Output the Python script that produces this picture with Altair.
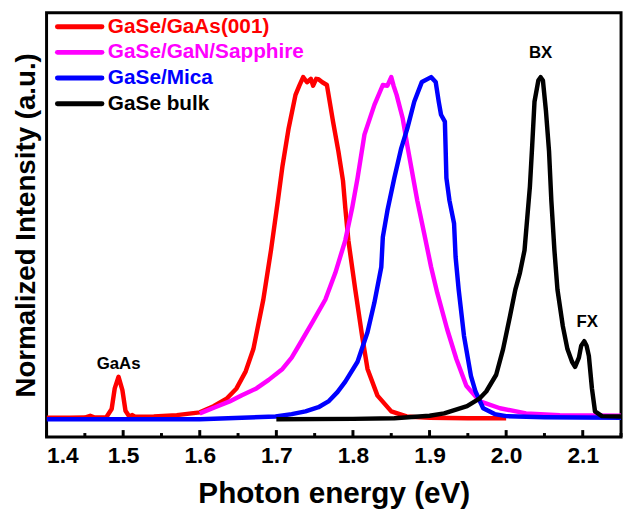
import altair as alt
import pandas as pd

# ---- data ----
series_names = ["GaSe/GaAs(001)", "GaSe/GaN/Sapphire", "GaSe/Mica", "GaSe bulk"]
series_colors = ["#ff0000", "#ff00ff", "#0000ff", "#000000"]

gaas_x = [1.400, 1.430, 1.450, 1.457, 1.463, 1.478, 1.485, 1.489, 1.494, 1.499, 1.503,
          1.508, 1.512, 1.516, 1.540, 1.570, 1.600, 1.618, 1.635, 1.648, 1.660, 1.670,
          1.683, 1.693, 1.702, 1.708, 1.716, 1.725, 1.730, 1.735, 1.740, 1.745, 1.748,
          1.752, 1.755, 1.760, 1.766, 1.774, 1.781, 1.787, 1.790, 1.794, 1.803, 1.812,
          1.819, 1.832, 1.850, 1.870, 1.900, 1.950, 2.000]
gaas_y = [0.004, 0.004, 0.005, 0.010, 0.005, 0.006, 0.030, 0.090, 0.124, 0.085, 0.025,
          0.008, 0.012, 0.007, 0.008, 0.012, 0.020, 0.038, 0.060, 0.090, 0.140, 0.205,
          0.350, 0.494, 0.639, 0.740, 0.850, 0.948, 0.975, 1.000, 0.985, 0.995, 0.975,
          0.995, 0.994, 0.985, 0.977, 0.870, 0.783, 0.697, 0.618, 0.523, 0.379, 0.243,
          0.147, 0.069, 0.023, 0.008, 0.004, 0.003, 0.003]

gan_x = [1.600, 1.620, 1.639, 1.655, 1.674, 1.690, 1.708, 1.720, 1.729, 1.747, 1.764,
         1.777, 1.790, 1.799, 1.806, 1.815, 1.828, 1.839, 1.845, 1.850, 1.853, 1.857,
         1.865, 1.871, 1.884, 1.893, 1.902, 1.910, 1.923, 1.935, 1.948, 1.966, 1.992,
         2.026, 2.070, 2.150]
gan_y = [0.017, 0.035, 0.052, 0.070, 0.090, 0.115, 0.147, 0.180, 0.214, 0.283, 0.350,
         0.428, 0.523, 0.618, 0.705, 0.832, 0.919, 0.977, 0.975, 1.000, 0.975, 0.948,
         0.879, 0.800, 0.639, 0.543, 0.445, 0.370, 0.263, 0.176, 0.098, 0.052, 0.032,
         0.017, 0.012, 0.010]

mica_x = [1.400, 1.600, 1.699, 1.720, 1.738, 1.755, 1.768, 1.780, 1.790, 1.806, 1.819,
          1.828, 1.837, 1.839, 1.845, 1.854, 1.863, 1.871, 1.880, 1.890, 1.902, 1.908,
          1.912, 1.915, 1.920, 1.921, 1.922, 1.926, 1.932, 1.934, 1.938, 1.945, 1.954,
          1.960, 1.970, 1.985, 2.000, 2.050, 2.150]
mica_y = [0.000, 0.000, 0.008, 0.015, 0.023, 0.035, 0.052, 0.080, 0.110, 0.168, 0.254,
          0.341, 0.445, 0.532, 0.610, 0.705, 0.792, 0.850, 0.928, 0.986, 1.000, 0.986,
          0.928, 0.890, 0.870, 0.790, 0.705, 0.639, 0.572, 0.474, 0.379, 0.243, 0.127,
          0.081, 0.032, 0.015, 0.009, 0.006, 0.004]

bulk_x = [1.700, 1.800, 1.854, 1.900, 1.919, 1.949, 1.965, 1.974, 1.987, 1.996, 2.005,
          2.012, 2.018, 2.024, 2.031, 2.034, 2.037, 2.042, 2.045, 2.048, 2.052, 2.056,
          2.059, 2.063, 2.067, 2.074, 2.080, 2.086, 2.090, 2.095, 2.098, 2.102, 2.105,
          2.108, 2.112, 2.116, 2.125, 2.150]
bulk_y = [0.000, 0.001, 0.003, 0.010, 0.017, 0.038, 0.060, 0.081, 0.130, 0.205, 0.301,
          0.379, 0.428, 0.494, 0.680, 0.800, 0.928, 0.990, 1.000, 0.990, 0.900, 0.783,
          0.639, 0.494, 0.379, 0.272, 0.205, 0.168, 0.153, 0.180, 0.215, 0.228, 0.215,
          0.185, 0.090, 0.023, 0.009, 0.008]

annot_text = ["GaAs", "BX", "FX"]
annot_x = [1.494, 2.045, 2.106]
annot_y = [0.160, 1.070, 0.285]

major_ticks = [1.4, 1.5, 1.6, 1.7, 1.8, 1.9, 2.0, 2.1]
minor_ticks = [1.45, 1.55, 1.65, 1.75, 1.85, 1.95, 2.05, 2.15]

# ---- chart ----
FONT = "Liberation Sans"
W, H = 581, 429
XDOM = [1.4, 2.15]
YDOM = [-0.052, 1.188]
XTITLE = "Photon energy (eV)"
YTITLE = "Normalized Intensity (a.u.)"

xs = alt.Scale(domain=XDOM, nice=False, zero=False)
ys = alt.Scale(domain=YDOM, nice=False, zero=False)

x_axis = alt.Axis(values=major_ticks, format=".1f", ticks=False, tickSize=0, domain=False,
                  grid=False, labelFontSize=23, labelFontWeight="bold", labelFont=FONT,
                  labelColor="black", labelPadding=8, titleFontSize=30,
                  titleFontWeight="bold", titleFont=FONT, titleColor="black", titlePadding=11)
y_axis = alt.Axis(labels=False, ticks=False, tickSize=0, domain=False, grid=False,
                  titleFontSize=28, titleFontWeight="bold",
                  titleFont=FONT, titleColor="black", titlePadding=6)


def X(field):
    return alt.X(field, scale=xs, axis=x_axis, title=XTITLE)


def Y(field):
    return alt.Y(field, scale=ys, axis=y_axis, title=YTITLE)


series_x = [gaas_x, gan_x, mica_x, bulk_x]
series_y = [gaas_y, gan_y, mica_y, bulk_y]

layers = []
for i, (name, col) in enumerate(zip(series_names, series_colors)):
    df = pd.DataFrame({"energy": series_x[i], "intensity": series_y[i]})
    layers.append(
        alt.Chart(df).mark_line(color=col, strokeWidth=4.5, strokeJoin="round", clip=True).encode(
            x=X("energy:Q"), y=Y("intensity:Q"), order=alt.Order("energy:Q"),
        )
    )

# inward ticks on the bottom axis
major_df = pd.DataFrame({"energy": major_ticks})
minor_df = pd.DataFrame({"energy": minor_ticks})
layers.append(alt.Chart(major_df).mark_rule(color="black", strokeWidth=3).encode(
    x=X("energy:Q"), y=alt.value(H), y2=alt.value(H - 7)))
layers.append(alt.Chart(minor_df).mark_rule(color="black", strokeWidth=3).encode(
    x=X("energy:Q"), y=alt.value(H), y2=alt.value(H - 4)))

# peak annotations
ann_df = pd.DataFrame({"label": annot_text, "energy": annot_x, "intensity": annot_y})
layers.append(alt.Chart(ann_df).mark_text(fontSize=17, fontWeight="bold", font=FONT,
                                          color="black", baseline="middle").encode(
    x=X("energy:Q"), y=Y("intensity:Q"), text="label:N"))

# legend (top-left, inside the frame)
legend_rows = [14, 40, 66, 92]
one = pd.DataFrame({"a": [0]})
for name, col, yy in zip(series_names, series_colors, legend_rows):
    layers.append(alt.Chart(one).mark_rule(color=col, strokeWidth=5, strokeCap="round").encode(
        x=alt.value(11), x2=alt.value(56), y=alt.value(yy)))
    layers.append(alt.Chart(one).mark_text(align="left", baseline="middle", fontSize=21,
                                           fontWeight="bold", font=FONT, color=col).encode(
        x=alt.value(62), y=alt.value(yy), text=alt.value(name)))

chart = alt.layer(*layers).properties(
    width=W, height=H,
    autosize=alt.AutoSizeParams(type="none"),
    padding={"left": 39, "top": 2, "right": 4, "bottom": 75},
).configure(background="white").configure_view(stroke="black", strokeWidth=3)

chart.save("out.html", embed_options={"renderer": "svg", "actions": False})
